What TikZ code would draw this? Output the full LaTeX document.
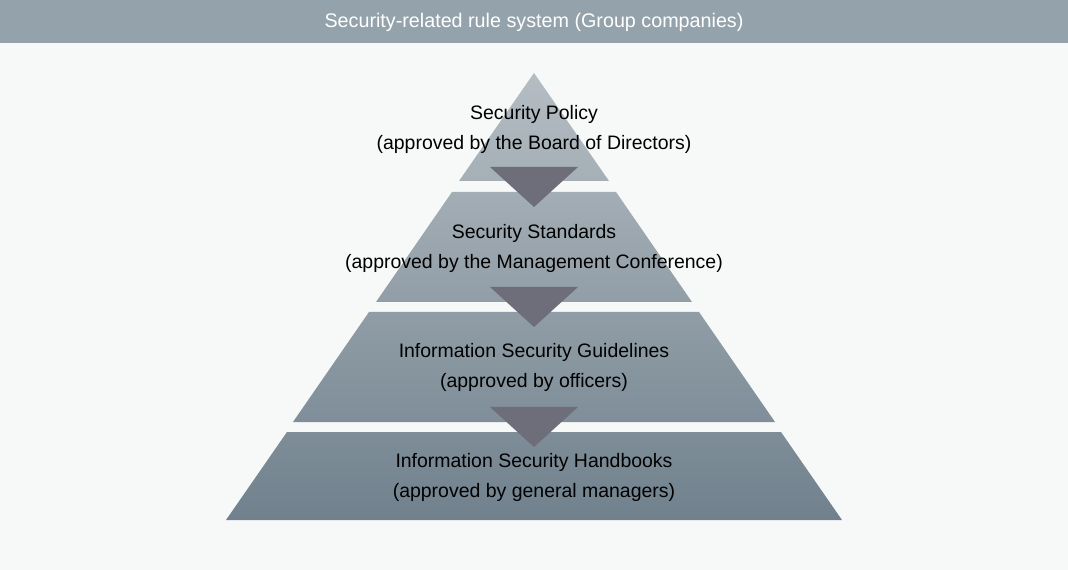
\documentclass[tikz,border=0pt]{standalone}
\usepackage{fontspec}
\setmainfont{Liberation Sans}
\usepackage{xcolor}
\definecolor{pagebg}{RGB}{247,249,249}
\definecolor{headergray}{RGB}{148,162,171}
\definecolor{arrowgray}{RGB}{110,110,122}
\definecolor{tierA}{RGB}{181,189,195}
\definecolor{tierB}{RGB}{164,175,182}
\definecolor{tierC}{RGB}{162,173,181}
\definecolor{tierD}{RGB}{146,158,167}
\definecolor{tierE}{RGB}{144,157,166}
\definecolor{tierF}{RGB}{127,142,153}
\definecolor{tierG}{RGB}{126,141,152}
\definecolor{tierH}{RGB}{112,129,141}

\begin{document}
\begin{tikzpicture}[x=0.75pt,y=-0.75pt,
    tiertext/.style={align=center, text=black, font=\fontsize{14.6}{22.5}\selectfont},
    downarrow/.style={fill=arrowgray}]
            % Page and header band
            \fill[pagebg] (0,0) rectangle (1068,570);
            \fill[headergray] (0,0) rectangle (1068,43);
            \node[text=white, font=\fontsize{14.8}{16}\selectfont] (title) at (534,22) {Security-related rule system (Group companies)};

            % Tier 1: top of the pyramid
            \shade[top color=tierA, bottom color=tierB] (534,73) -- (609,181) -- (459,181) -- cycle;
            % Tier 2
            \shade[top color=tierC, bottom color=tierD] (452,192) -- (616,192) -- (692,302) -- (376,302) -- cycle;
            % Tier 3
            \shade[top color=tierE, bottom color=tierF] (369,312) -- (699,312) -- (775,422) -- (293,422) -- cycle;
            % Tier 4: base of the pyramid
            \shade[top color=tierG, bottom color=tierH] (287,432) -- (781,432) -- (842,520) -- (226,520) -- cycle;

            % Arrows between the tiers
            \fill[downarrow] (490,167) -- (578,167) -- (534,207) -- cycle;
            \fill[downarrow] (490,287) -- (578,287) -- (534,327) -- cycle;
            \fill[downarrow] (490,407) -- (578,407) -- (534,447) -- cycle;

            % Tier labels
            \node[tiertext] (policy) at (534,129) {Security Policy\\(approved by the Board of Directors)};
            \node[tiertext] (standards) at (534,248) {Security Standards\\(approved by the Management Conference)};
            \node[tiertext] (guidelines) at (534,367) {Information Security Guidelines\\(approved by officers)};
            \node[tiertext] (handbooks) at (534,477) {Information Security Handbooks\\(approved by general managers)};
        \end{tikzpicture}
\end{document}
